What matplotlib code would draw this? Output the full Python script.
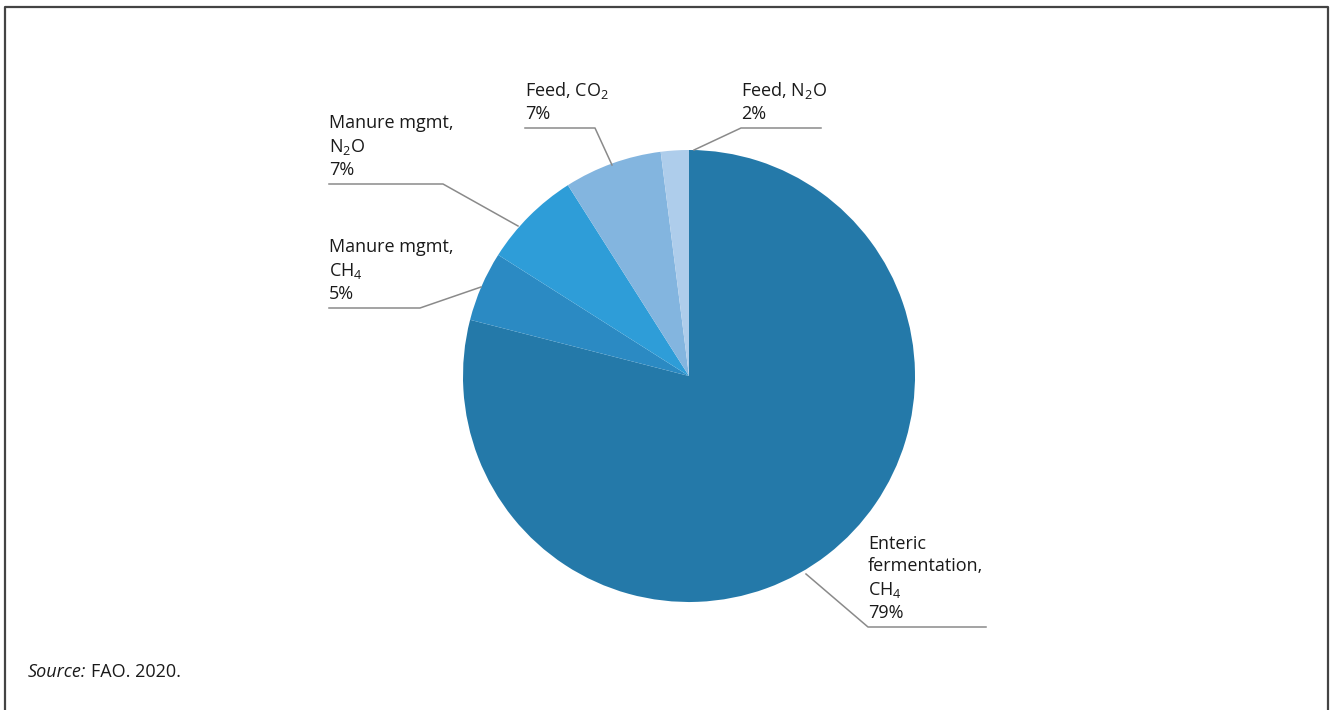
import matplotlib.pyplot as plt
from matplotlib.lines import Line2D

plt.rcParams['font.family'] = ['Open Sans', 'DejaVu Sans']
plt.rcParams['mathtext.fontset'] = 'custom'
plt.rcParams['mathtext.rm'] = 'Open Sans'
plt.rcParams['mathtext.it'] = 'Open Sans:italic'

# emission sources, clockwise from 12 o'clock
sources = ['Enteric\nfermentation,\nCH$_4$', 'Manure mgmt,\nCH$_4$',
           'Manure mgmt,\nN$_2$O', 'Feed, CO$_2$', 'Feed, N$_2$O']
shares = [79, 5, 7, 7, 2]
colors = ['#2479a9', '#2b8ac3', '#2e9dd8', '#83b5df', '#aecdeb']

W, H = 1330, 710
fig = plt.figure(figsize=(W / 100, H / 100), dpi=100)

# pie centred at (689, 376) px with a radius of 226 px
cx, cy, r = 689, 376, 226
ax = fig.add_axes([(cx - r) / W, (H - cy - r) / H, 2 * r / W, 2 * r / H])
ax.pie(shares, colors=colors, startangle=90, counterclock=False,
       wedgeprops=dict(linewidth=0))
ax.set_xlim(-1, 1)
ax.set_ylim(-1, 1)
ax.set_aspect('equal')
ax.axis('off')

# overlay in pixel coordinates for labels, leaders and frame
ov = fig.add_axes([0, 0, 1, 1], zorder=3)
ov.set_xlim(0, W)
ov.set_ylim(H, 0)
ov.axis('off')
ov.patch.set_alpha(0)

# (text x, leader polyline) for each slice
leaders = [
    (868, [(806, 574), (868, 627), (986, 627)]),
    (329, [(481, 287), (420, 308), (329, 308)]),
    (329, [(518, 226), (443, 184), (329, 184)]),
    (525, [(612, 165), (595, 128), (525, 128)]),
    (741, [(694, 150), (741, 128), (821, 128)]),
]

for name, pct, (tx, pts) in zip(sources, shares, leaders):
    xs = [p[0] for p in pts]
    ys = [p[1] for p in pts]
    ov.add_line(Line2D(xs, ys, color='#8a8a8a', lw=1.1))
    ov.text(tx, pts[-1][1] - 5, f'{name}\n{pct}%', ha='left', va='bottom',
            fontsize=13, color='#1a1a1a', linespacing=1.3)

# source note: italic lead-in followed by plain text
src = ov.text(28, 677, 'Source:', fontstyle='italic', fontsize=13,
              color='#1a1a1a', va='baseline')
fig.canvas.draw()
bb = src.get_window_extent().transformed(ov.transData.inverted())
ov.text(bb.x1 + 5, 677, 'FAO. 2020.', fontsize=13, color='#1a1a1a',
        va='baseline')

# frame open at the bottom
ov.add_line(Line2D([5, 5, 1328, 1328], [H, 7, 7, H], color='#444444', lw=1.6))

fig.savefig('out.png', dpi=100)
